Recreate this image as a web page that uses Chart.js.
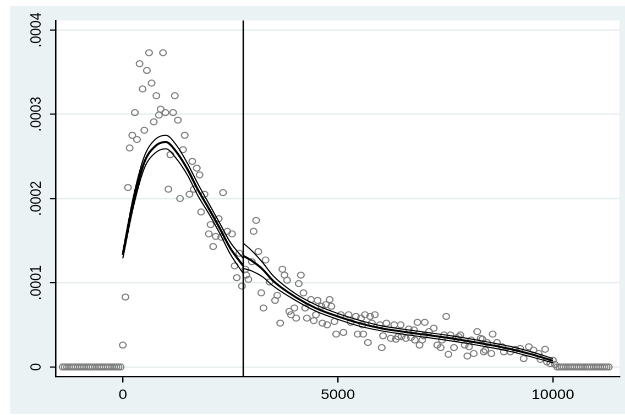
<!DOCTYPE html>
<html>
<head>
<meta charset="utf-8">
<script src="https://cdn.jsdelivr.net/npm/chart.js@4.4.1/dist/chart.umd.min.js"></script>
<style>
  html, body { margin: 0; padding: 0; background: #fff; overflow: hidden; }
  /* the reference is a Stata graph stretched sideways, so the canvas is too */
  #wrap { position: absolute; left: 0; top: 0; width: 568px; height: 415px;
          transform: scaleX(1.10035); transform-origin: 0 0; }
</style>
</head>
<body>
<div id="wrap"><canvas id="graph" width="568" height="415"></canvas></div>
<script>
// datos
var cutoff = 2800;

var obsX = [
  -1400, -1350, -1300, -1250, -1200, -1150, -1100, -1050, -1000, -950,
  -900, -850, -800, -750, -700, -650, -600, -550, -500, -450,
  -400, -350, -300, -250, -200, -150, -100, -50,
  0, 60, 120, 160, 220, 280, 330, 390, 460, 500,
  560, 610, 670, 720, 780, 840, 880, 935, 990, 1060,
  1105, 1170, 1210, 1280, 1330, 1400, 1440, 1550, 1615, 1650,
  1720, 1785, 1820, 1900, 2000, 2040, 2100, 2160, 2230, 2290,
  2330, 2430, 2540, 2600, 2650, 2710, 2770,
  2850, 2870, 2920, 3000, 3040, 3100, 3150, 3220, 3270, 3320,
  3410, 3540, 3590, 3660, 3710, 3760, 3820, 3870, 3910, 3990,
  4030, 4090, 4140, 4200, 4240, 4280, 4375, 4440, 4490, 4530,
  4620, 4640, 4720, 4750, 4810, 4850, 4920, 4960, 5070, 5130,
  5250, 5300, 5420, 5460, 5540, 5570, 5590, 5630, 5700, 5750,
  5790, 5860, 5975, 6020, 6050, 6130, 6230, 6310, 6350, 6400,
  6460, 6480, 6580, 6650, 6700, 6770, 6790, 6850, 6900, 6960,
  7000, 7020, 7120, 7230, 7310, 7390, 7420, 7470, 7520, 7570,
  7620, 7700, 7760, 7810, 7850, 7950, 8010, 8050, 8100, 8160,
  8240, 8320, 8360, 8390, 8430, 8470, 8570, 8600, 8700, 8820,
  8860, 9010, 9130, 9240, 9320, 9440, 9550, 9670, 9710, 9820,
  9860, 9940, 10000, 10050,
  10100, 10150, 10200, 10250, 10300, 10350, 10400, 10450, 10500, 10550,
  10600, 10650, 10700, 10750, 10800, 10850, 10900, 10950, 11000, 11050,
  11100, 11150, 11200, 11250, 11300
];
var obsY = [
  0, 0, 0, 0, 0, 0, 0, 0, 0, 0,
  0, 0, 0, 0, 0, 0, 0, 0, 0, 0,
  0, 0, 0, 0, 0, 0, 0, 0,
  2.6e-5, 8.3e-5, 21.3e-5, 26.0e-5, 27.5e-5, 30.2e-5, 27.0e-5, 36.0e-5, 33.0e-5, 28.1e-5,
  35.2e-5, 37.3e-5, 33.7e-5, 29.1e-5, 32.2e-5, 29.9e-5, 30.6e-5, 37.3e-5, 30.2e-5, 21.1e-5,
  25.2e-5, 30.2e-5, 32.2e-5, 29.3e-5, 20.0e-5, 25.8e-5, 27.5e-5, 20.5e-5, 24.4e-5, 21.1e-5,
  23.6e-5, 22.8e-5, 18.4e-5, 20.5e-5, 15.8e-5, 16.9e-5, 14.3e-5, 15.5e-5, 17.6e-5, 15.4e-5,
  20.7e-5, 16.1e-5, 15.8e-5, 12.0e-5, 10.6e-5, 13.5e-5, 9.6e-5,
  11.6e-5, 10.9e-5, 10.4e-5, 12.5e-5, 16.1e-5, 17.4e-5, 13.7e-5, 8.8e-5, 7.0e-5, 12.7e-5,
  10.1e-5, 7.9e-5, 8.5e-5, 5.2e-5, 11.6e-5, 10.9e-5, 10.3e-5, 6.6e-5, 6.2e-5, 7.0e-5,
  5.8e-5, 9.9e-5, 10.9e-5, 8.8e-5, 7.0e-5, 5.8e-5, 8.0e-5, 5.5e-5, 6.2e-5, 7.9e-5,
  7.2e-5, 5.2e-5, 7.4e-5, 5.0e-5, 8.0e-5, 7.2e-5, 5.4e-5, 3.9e-5, 6.2e-5, 4.1e-5,
  6.2e-5, 5.3e-5, 6.0e-5, 3.9e-5, 5.8e-5, 5.0e-5, 3.9e-5, 6.2e-5, 2.9e-5, 6.0e-5,
  5.2e-5, 6.2e-5, 5.0e-5, 2.3e-5, 3.7e-5, 5.2e-5, 3.4e-5, 5.0e-5, 3.3e-5, 3.6e-5,
  5.0e-5, 3.6e-5, 3.4e-5, 4.5e-5, 3.5e-5, 4.4e-5, 3.2e-5, 5.3e-5, 2.6e-5, 3.2e-5,
  3.7e-5, 5.3e-5, 4.2e-5, 4.6e-5, 2.6e-5, 2.3e-5, 3.2e-5, 3.8e-5, 6.0e-5, 1.5e-5,
  3.8e-5, 2.3e-5, 3.4e-5, 3.6e-5, 3.8e-5, 2.6e-5, 1.3e-5, 2.4e-5, 3.2e-5, 1.6e-5,
  4.2e-5, 3.4e-5, 3.3e-5, 1.8e-5, 2.0e-5, 2.9e-5, 1.6e-5, 3.9e-5, 2.9e-5, 2.4e-5,
  1.8e-5, 1.8e-5, 2.1e-5, 2.2e-5, 1.0e-5, 2.4e-5, 2.0e-5, 1.6e-5, 0.9e-5, 2.1e-5,
  0.6e-5, 0.4e-5, 0.8e-5, 0.3e-5,
  0, 0, 0, 0, 0, 0, 0, 0, 0, 0,
  0, 0, 0, 0, 0, 0, 0, 0, 0, 0,
  0, 0, 0, 0, 0
];

// ajuste por debajo del umbral (con banda de confianza)
var fitLeftX   = [0, 250, 500, 750, 1000, 1250, 1500, 1750, 2000, 2250, 2500, 2800];
var fitLeftMid = [13.3e-5, 19.7e-5, 24.3e-5, 26.2e-5, 26.7e-5, 25.5e-5, 23.5e-5, 21.0e-5, 18.8e-5, 16.5e-5, 14.1e-5, 12.0e-5];
var fitLeftHi  = [13.7e-5, 20.3e-5, 25.0e-5, 27.0e-5, 27.5e-5, 26.3e-5, 24.2e-5, 21.7e-5, 19.4e-5, 17.1e-5, 14.8e-5, 12.9e-5];
var fitLeftLo  = [12.9e-5, 19.1e-5, 23.6e-5, 25.4e-5, 25.9e-5, 24.7e-5, 22.8e-5, 20.3e-5, 18.2e-5, 15.9e-5, 13.4e-5, 11.1e-5];

// ajuste por encima del umbral
var fitRightX   = [2800, 3000, 3250, 3500, 4000, 4500, 5000, 5500, 6000, 6500, 7000, 7500, 8000, 8500, 9000, 9500, 10000];
var fitRightMid = [13.2e-5, 12.6e-5, 11.6e-5, 10.2e-5, 8.35e-5, 6.96e-5, 6.0e-5, 5.2e-5, 4.6e-5, 4.2e-5, 3.85e-5, 3.5e-5, 3.1e-5, 2.65e-5, 2.15e-5, 1.5e-5, 0.75e-5];
var fitRightHi  = [14.7e-5, 13.8e-5, 12.4e-5, 10.8e-5, 8.75e-5, 7.36e-5, 6.35e-5, 5.55e-5, 4.9e-5, 4.5e-5, 4.15e-5, 3.8e-5, 3.4e-5, 2.95e-5, 2.45e-5, 1.8e-5, 1.0e-5];
var fitRightLo  = [11.7e-5, 11.4e-5, 10.7e-5, 9.6e-5, 7.95e-5, 6.6e-5, 5.65e-5, 4.85e-5, 4.3e-5, 3.9e-5, 3.55e-5, 3.2e-5, 2.8e-5, 2.35e-5, 1.85e-5, 1.2e-5, 0.5e-5];

var xTicks = [0, 5000, 10000];
var xTickLabels = ["0", "5000", "10000"];
var yTicks = [0, 0.0001, 0.0002, 0.0003, 0.0004];
var yTickLabels = ["0", ".0001", ".0002", ".0003", ".0004"];

var xMin = -1553, xMax = 11546;
var yMin = -1.13e-5, yMax = 4.113e-4;

var STRETCH = 625 / 568;

function pairs(xs, ys) {
    return xs.map(function(x, i) { return { x: x, y: ys[i] }; });
}

function fitLine(xs, ys, width) {
    return {
        type: "line",
        data: pairs(xs, ys),
        borderColor: "#000",
        borderWidth: width,
        pointRadius: 0,
        fill: false,
        cubicInterpolationMode: "monotone"
    };
}

var backdrop = {
    id: "backdrop",
    beforeDraw: function(chart) {
        var ctx = chart.ctx, a = chart.chartArea;
        ctx.save();
        ctx.fillStyle = "#ffffff";
        ctx.fillRect(0, 0, chart.width, chart.height);
        ctx.fillStyle = "#eaf2f3";
        ctx.fillRect(10 / STRETCH, 6, chart.width, chart.height - 7);
        ctx.fillStyle = "#ffffff";
        ctx.fillRect(a.left, a.top, a.right - a.left, a.bottom - a.top);
        ctx.restore();
    }
};

Chart.defaults.font.family = "'Liberation Sans', Arial, sans-serif";
Chart.defaults.font.size = 14;
Chart.defaults.color = "#000";

var grafico = document.getElementById("graph").getContext("2d");

var chart = new Chart(grafico, {
    type: "scatter",
    data: {
        datasets: [
            {
                type: "line",
                data: [{ x: cutoff, y: yMin }, { x: cutoff, y: yMax }],
                borderColor: "#000",
                borderWidth: 1.3,
                pointRadius: 0
            },
            fitLine(fitLeftX, fitLeftHi, 1.1),
            fitLine(fitLeftX, fitLeftMid, 2),
            fitLine(fitLeftX, fitLeftLo, 1.1),
            fitLine(fitRightX, fitRightHi, 1.1),
            fitLine(fitRightX, fitRightMid, 2),
            fitLine(fitRightX, fitRightLo, 1.1),
            {
                data: pairs(obsX, obsY),
                pointStyle: "circle",
                pointRadius: 3,
                pointBorderWidth: 1.1,
                pointBackgroundColor: "rgba(0,0,0,0)",
                pointBorderColor: "#7d7d7d",
                showLine: false
            }
        ]
    },
    options: {
        responsive: false,
        animation: false,
        devicePixelRatio: 2,
        layout: { padding: { left: 0, top: 20.5, right: 568 - 621 / STRETCH, bottom: 0 } },
        plugins: { legend: { display: false }, tooltip: { enabled: false } },
        scales: {
            x: {
                type: "linear",
                min: xMin,
                max: xMax,
                afterBuildTicks: function(s) { s.ticks = xTicks.map(function(v) { return { value: v }; }); },
                afterFit: function(s) { s.height = 38.5; },
                ticks: {
                    padding: 4,
                    maxRotation: 0,
                    callback: function(v) { return xTickLabels[xTicks.indexOf(v)]; }
                },
                grid: { drawOnChartArea: false, color: "#000", tickColor: "#000", tickLength: 6, lineWidth: 1.2 },
                border: { display: true, color: "#000", width: 1.3 }
            },
            y: {
                type: "linear",
                min: yMin,
                max: yMax,
                afterBuildTicks: function(s) { s.ticks = yTicks.map(function(v) { return { value: v }; }); },
                afterFit: function(s) { s.width = 56 / STRETCH; },
                ticks: {
                    minRotation: 90,
                    maxRotation: 90,
                    crossAlign: "center",
                    padding: -5,
                    callback: function(v) { return yTickLabels[yTicks.indexOf(v)]; }
                },
                grid: { color: "#e3ecee", tickColor: "#000", tickLength: 6 / STRETCH, lineWidth: 1.2 },
                border: { display: true, color: "#000", width: 1.3 }
            }
        }
    },
    plugins: [backdrop]
});
</script>
</body>
</html>
